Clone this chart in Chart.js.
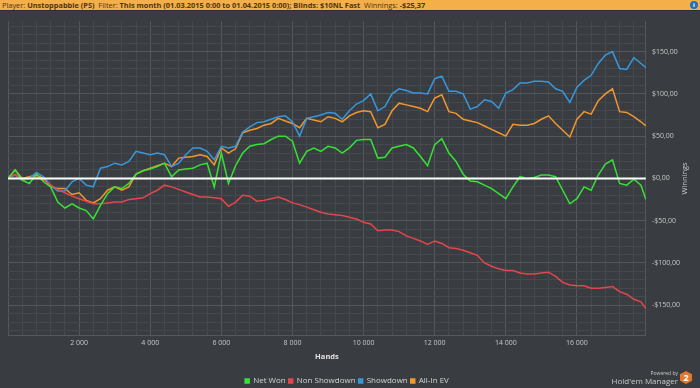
<!DOCTYPE html>
<html lang="en">
<head>
<meta charset="UTF-8">
<title>Winnings graph</title>
<script src="https://cdn.jsdelivr.net/npm/chart.js@4.4.1/dist/chart.umd.min.js"></script>
<style>
  body { margin: 0; width: 700px; height: 388px; overflow: hidden; background: #393c40; font-family: "Open Sans", sans-serif; position: relative; }
  #header { height: 10px; background: #f4ae4a; border-bottom: 1px solid #2c2e31; font-size: 7.4px; line-height: 10px; color: #4a3612; padding-left: 2px; white-space: nowrap; }
  #info { position: absolute; right: 2px; top: 1px; width: 8px; height: 8px; border-radius: 50%; background: #2272b8; color: #fff; font-size: 6px; line-height: 8px; text-align: center; font-weight: bold; }
  /* canvas runs a little past the window so the legend sits low like the original */
  #wrap { position: absolute; left: 0; top: 11px; width: 700px; height: 384px; }
  #logo { position: absolute; right: 22px; bottom: 3px; text-align: right; color: #c9c9c9; }
  #logo .small { font-size: 5px; line-height: 6px; }
  #logo .big { font-size: 8px; line-height: 9px; }
  #hex { position: absolute; right: 8px; bottom: 4px; width: 12px; height: 13px; background: #e1782c; color: #fff; font-size: 9px; font-weight: bold; text-align: center; line-height: 13px;
         clip-path: polygon(50% 0, 100% 25%, 100% 75%, 50% 100%, 0 75%, 0 25%); }
</style>
</head>
<body>

<div id="header">Player: <b>Unstoppabble (PS)</b> &nbsp;Filter: <b>This month (01.03.2015 0:00 to 01.04.2015 0:00); Blinds: $10NL Fast</b> &nbsp;Winnings: <b>-$25,37</b></div>
<div id="info">i</div>
<div id="wrap"><canvas id="chart"></canvas></div>
<div id="logo"><div class="small">Powered by</div><div class="big">Hold'em Manager</div></div>
<div id="hex">2</div>

<script>
// hands played (x axis)
const hands = [
    0, 200, 400, 600, 800, 1000, 1200, 1400, 1600, 1800,
    2000, 2200, 2400, 2600, 2800, 3000, 3200, 3400, 3600, 3800,
    4000, 4200, 4400, 4600, 4800, 5000, 5200, 5400, 5600, 5800,
    6000, 6200, 6400, 6600, 6800, 7000, 7200, 7400, 7600, 7800,
    8000, 8200, 8400, 8600, 8800, 9000, 9200, 9400, 9600, 9800,
    10000, 10200, 10400, 10600, 10800, 11000, 11200, 11400, 11600, 11800,
    12000, 12200, 12400, 12600, 12800, 13000, 13200, 13400, 13600, 13800,
    14000, 14200, 14400, 14600, 14800, 15000, 15200, 15400, 15600, 15800,
    16000, 16200, 16400, 16600, 16800, 17000, 17200, 17400, 17600, 17800,
    17940
];

// winnings in $
const netWon = [
    0, 10, -2, -6, 5, -4, -10, -28, -35, -30,
    -35, -38, -48, -32, -18, -10, -12, -6, 5, 9,
    11, 14, 18, 2, 10, 11, 12, 16, 18, -10,
    30, -6, 15, 30, 38, 40, 41, 46, 50, 50,
    44, 18, 32, 36, 32, 38, 36, 30, 36, 45,
    46, 46, 24, 25, 36, 38, 40, 36, 26, 15,
    40, 47, 30, 20, 5, -3, -4, -8, -12, -18,
    -24, -10, 2, 0, 1, 4, 4, 2, -14, -30,
    -24, -10, -14, 4, 17, 22, -6, -8, -1, -8,
    -25
];
const nonShowdown = [
    0, 5, -2, 0, 2, -2, -8, -13, -17, -21,
    -24, -27, -30, -30, -29, -28, -28, -25, -24, -23,
    -18, -14, -8, -10, -13, -16, -19, -22, -22, -23,
    -24, -33, -28, -20, -21, -27, -26, -24, -22, -25,
    -29, -31, -34, -37, -40, -42, -43, -44, -46, -48,
    -52, -54, -62, -61, -61, -63, -68, -71, -74, -78,
    -74, -77, -82, -83, -85, -88, -91, -100, -104, -107,
    -109, -109, -112, -113, -113, -112, -111, -116, -123, -126,
    -127, -127, -130, -130, -129, -128, -134, -137, -143, -146,
    -154
];
const showdown = [
    0, 4, -2, 0, 7, 2, -8, -15, -15, -4,
    0, -8, -10, 12, 14, 18, 16, 20, 32, 30,
    28, 30, 28, 14, 18, 28, 36, 36, 32, 22,
    38, 36, 38, 55, 61, 66, 67, 70, 73, 74,
    67, 50, 71, 73, 75, 78, 77, 70, 80, 88,
    92, 100, 80, 85, 100, 106, 104, 101, 101, 100,
    118, 121, 103, 103, 100, 82, 85, 93, 91, 83,
    101, 105, 113, 113, 115, 115, 114, 106, 103, 90,
    108, 116, 122, 136, 146, 150, 130, 129, 143, 136,
    131
];
const allInEv = [
    0, 10, 0, 2, 4, 0, -10, -12, -12, -19,
    -17, -26, -29, -24, -14, -10, -14, -10, 5, 9,
    12, 15, 18, 14, 24, 25, 26, 28, 26, 16,
    36, 30, 35, 54, 57, 59, 63, 65, 71, 68,
    65, 60, 71, 69, 67, 73, 71, 67, 74, 78,
    80, 79, 60, 64, 80, 89, 87, 85, 83, 79,
    95, 99, 79, 77, 70, 68, 66, 62, 58, 54,
    50, 64, 63, 63, 65, 70, 74, 65, 57, 49,
    70, 79, 76, 92, 100, 106, 79, 78, 73, 67,
    62
];

const seriesNames = ['Net Won', 'Non Showdown', 'Showdown', 'All-In EV'];
const seriesColors = ['#36e236', '#e4474b', '#3798dc', '#f2962f'];
const seriesValues = [netWon, nonShowdown, showdown, allInEv];

const FONT = '"Open Sans", sans-serif';
const minorGrid = '#45484c';
const majorGrid = '#54575b';

// tick steps: minor grid every 400 hands / $10, labels every 2000 hands / $50
function stepTicks(axis, step) {
    const ticks = [];
    for (let v = Math.ceil(axis.min / step) * step; v <= axis.max; v += step) ticks.push({ value: v });
    axis.ticks = ticks;
}

// "Winnings" title, reading bottom to top
const sideTitle = {
    id: 'sideTitle',
    afterDraw(chart) {
        const { ctx, chartArea } = chart;
        ctx.save();
        ctx.translate(chart.width - 15, (chartArea.top + chartArea.bottom) / 2);
        ctx.rotate(-Math.PI / 2);
        ctx.fillStyle = '#d0d0d0';
        ctx.font = '7.5px ' + FONT;
        ctx.textAlign = 'center';
        ctx.textBaseline = 'middle';
        ctx.fillText('Winnings', 0, 0);
        ctx.restore();
    }
};

const datasets = seriesNames.map((name, i) => ({
    label: name,
    data: hands.map((h, j) => ({ x: h, y: seriesValues[i][j] })),
    borderColor: seriesColors[i],
    backgroundColor: seriesColors[i],
    borderWidth: 1.5,
    pointRadius: 0,
    tension: 0
}));

// zero line on top of everything
datasets.push({
    label: 'zero',
    data: [{ x: hands[0], y: 0 }, { x: hands[hands.length - 1], y: 0 }],
    borderColor: '#ffffff',
    borderWidth: 2,
    pointRadius: 0,
    order: -1
});

const ctx = document.getElementById('chart').getContext('2d');
new Chart(ctx, {
    type: 'line',
    data: { datasets },
    plugins: [sideTitle],
    options: {
        responsive: true,
        maintainAspectRatio: false,
        animation: false,
        layout: { padding: { top: 9, left: 8, right: 14, bottom: 0 } },
        plugins: {
            tooltip: { enabled: false },
            legend: {
                position: 'bottom',
                labels: {
                    filter: item => item.text !== 'zero',
                    boxWidth: 4,
                    boxHeight: 4,
                    padding: 3,
                    color: '#d4d4d4',
                    font: { size: 8, family: FONT }
                }
            }
        },
        scales: {
            x: {
                type: 'linear',
                min: 0,
                max: 17940,
                afterBuildTicks: axis => stepTicks(axis, 400),
                ticks: {
                    autoSkip: false,
                    maxRotation: 0,
                    padding: 3,
                    color: '#c8c8c8',
                    font: { size: 7, family: FONT },
                    callback: v => (v % 2000 === 0 && v > 0) ? String(v).replace(/\B(?=(\d{3})+(?!\d))/g, ' ') : ''
                },
                grid: {
                    drawTicks: false,
                    color: c => (c.tick && c.tick.value % 2000 === 0) ? majorGrid : minorGrid
                },
                border: { color: majorGrid },
                title: {
                    display: true,
                    text: 'Hands',
                    color: '#e2e2e2',
                    font: { size: 7.5, weight: 'bold', family: FONT },
                    padding: { top: 2, bottom: 13 }
                }
            },
            y: {
                position: 'right',
                min: -186,
                max: 186,
                afterBuildTicks: axis => stepTicks(axis, 10),
                ticks: {
                    autoSkip: false,
                    padding: 6,
                    color: '#c8c8c8',
                    font: { size: 7, family: FONT },
                    callback: v => (v % 50 === 0) ? (v < 0 ? '-' : '') + '$' + Math.abs(v) + ',00' : ''
                },
                grid: {
                    drawTicks: false,
                    color: c => (c.tick && c.tick.value % 50 === 0) ? majorGrid : minorGrid
                },
                border: { color: majorGrid }
            }
        }
    }
});
</script>
</body>
</html>
